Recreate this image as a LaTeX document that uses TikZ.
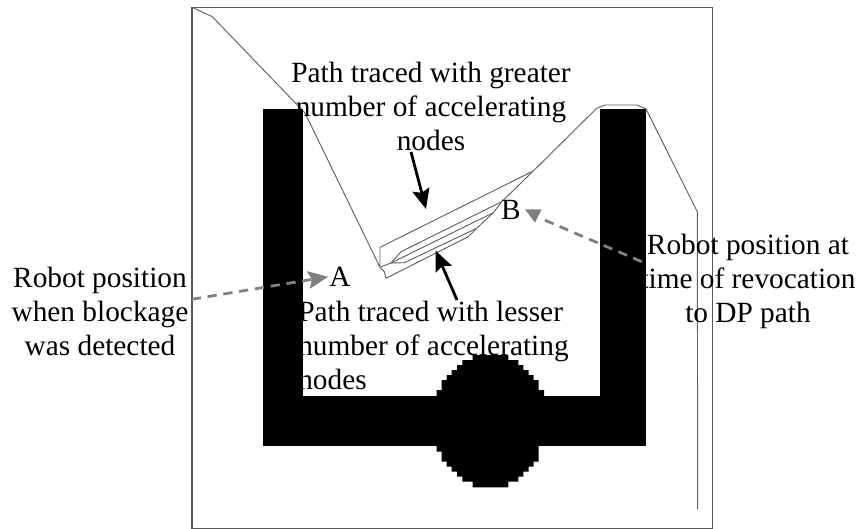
\documentclass[tikz,border=0pt]{standalone}
\usepackage{fontspec}
\setmainfont{Liberation Serif}
\usetikzlibrary{arrows.meta}
\usetikzlibrary{calc}

\begin{document}
\begin{tikzpicture}[x=0.75pt, y=-0.75pt]
              \tikzset{trace/.style={draw=black!62, line width=0.7pt, line join=round}}
              \tikzset{label/.style={font=\fontsize{22}{25.5}\selectfont, inner sep=0pt, text=black}}
              \tikzset{pointer/.style={-{Stealth[length=15pt, width=13pt, inset=2.5pt]}, black, line width=2.1pt}}
              \tikzset{hint/.style={black!50, line width=2.1pt, dash pattern=on 7pt off 5pt}}

              \def\W{858}
              \def\H{529}

              \useasboundingbox (0,0) rectangle (\W,\H);
              \draw[black!65, line width=0.8pt] (192,7.3) rectangle (712.7,528.3);

              % traced paths
              \draw[trace] (192,7.3) -- (212.3,16.7) -- (305,113) -- (380,267.3) -- (380,247.3) -- (533.3,171)
                -- (596.7,108.3) -- (605,105) -- (636.7,105) -- (646,109) -- (697.3,211.7) -- (697.7,509);
              \draw[trace] (533.3,171) -- (501.7,201.7) -- (493.3,212.7) -- (476.7,228.3) -- (468.3,236.7)
                -- (386,278.3) -- (384.3,271.7) -- (380,267.3);
              \draw[trace] (380,267.3) -- (391,263) -- (401,251.7) -- (501.7,201.7);
              \draw[trace] (391,263) -- (493.3,212.7);
              \draw[trace] (391,263) -- (404.3,262.7) -- (476.7,228.3);

              \node[label, align=center] (greater) at (431,106) {Path traced with greater\\number of accelerating\\nodes};
              \node[label, align=left, anchor=west] (lesser) at (298,345) {Path traced with lesser\\number of accelerating\\nodes};
              \node[label, align=center] (blockage) at (100,311) {Robot position\\when blockage\\was detected};
              \node[label, align=center] (revocation) at (748,281) {Robot position at\\time of revocation\\to DP path};

              % walls and obstacle
              \fill[black] (263,109.3) rectangle (303,446);
              \fill[black] (600,109.3) rectangle (646,446);
              \fill[black] (263,395.5) rectangle (646,446);
              \fill[black] (472.7,355) -- (508.3,355) -- (508.3,360) -- (518.3,360) -- (518.3,365) -- (523.3,365)
                -- (523.3,370) -- (528.7,370) -- (528.7,375) -- (533.7,375) -- (533.7,380) -- (538.7,380)
                -- (538.7,390) -- (544,390) -- (544,400) -- (538.7,400) -- (538.7,461.7) -- (533.7,461.7)
                -- (533.7,466.7) -- (528.7,466.7) -- (528.7,471.7) -- (523.3,471.7) -- (523.3,476.7) -- (518.3,476.7)
                -- (518.3,481.7) -- (508.3,481.7) -- (508.3,487.3) -- (472.7,487.3) -- (472.7,481.7) -- (462.3,481.7)
                -- (462.3,476.7) -- (457,476.7) -- (457,471.7) -- (451.7,471.7) -- (451.7,466.7) -- (446.7,466.7)
                -- (446.7,461.7) -- (441.7,461.7) -- (441.7,451.7) -- (436.7,451.7) -- (436.7,390) -- (441.7,390)
                -- (441.7,380) -- (446.7,380) -- (446.7,375) -- (451.7,375) -- (451.7,370) -- (457,370)
                -- (457,365) -- (462.3,365) -- (462.3,360) -- (472.7,360) -- cycle;

              \node[label] (A) at (340,277) {A};
              \node[label] (B) at (511,210) {B};

              \coordinate (greatertail) at (411,152);
              \coordinate (greatertip) at (426,209);
              \coordinate (lessertail) at (457,300);
              \coordinate (lessertip) at (435.7,250.7);
              \draw[pointer] (greatertail) -- (greatertip);
              \draw[pointer] (lessertail) -- (lessertip);

              \coordinate (blockagetail) at (191.7,299.3);
              \coordinate (Atip) at (328.3,276.7);
              \draw[hint, -{Stealth[length=15pt, width=13pt, inset=2.5pt]}] (blockagetail) -- (Atip);

              \coordinate (revocationtail) at (641.7,261.7);
              \coordinate (Bhead) at (541,218.5);
              \draw[hint] (revocationtail) -- (Bhead);
              \fill[black!50] (525,209.3) -- (541.7,209.3) -- (535,222.7) -- cycle;
            \end{tikzpicture}
\end{document}
